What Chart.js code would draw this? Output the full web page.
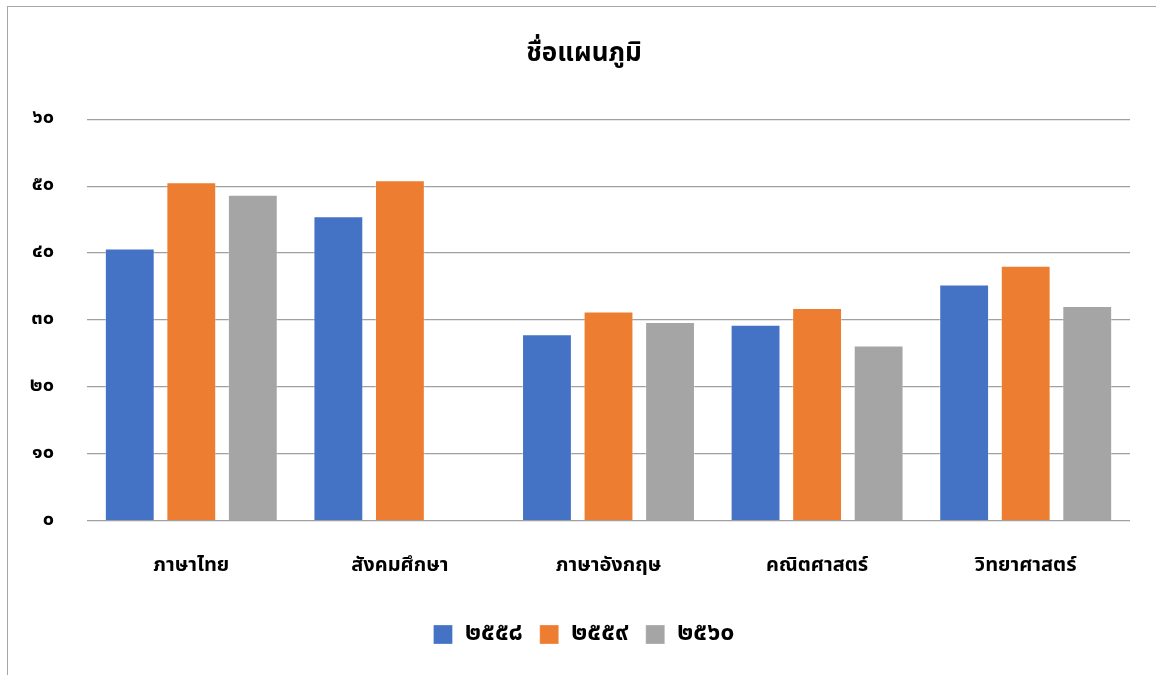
<!DOCTYPE html>
<html>
<head>
<meta charset="utf-8">
<script src="https://cdn.jsdelivr.net/npm/chart.js@4"></script>
<style>
  html, body { margin: 0; padding: 0; background: #fff; }
  #wrap { position: relative; width: 1156px; height: 675px; overflow: hidden; }
  #frame { position: absolute; left: 7px; top: 6px; width: 1170px; height: 690px; border: 1px solid #a6a6a6; box-sizing: border-box; }
  #c { position: absolute; left: 6px; top: 0; }
</style>
</head>
<body>
<div id="wrap">
  <div id="frame"></div>
  <canvas id="c" width="1156" height="675"></canvas>
</div>
<script>
const categories = ['ภาษาไทย', 'สังคมศึกษา', 'ภาษาอังกฤษ', 'คณิตศาสตร์', 'วิทยาศาสตร์'];
const seriesNames = ['๒๕๕๘', '๒๕๕๙', '๒๕๖๐'];
const values2558 = [40.7, 45.5, 27.9, 29.3, 35.3];
const values2559 = [50.6, 50.9, 31.3, 31.8, 38.1];
const values2560 = [48.7, null, 29.7, 26.2, 32.1];
const tickLabels = ['๐', '๑๐', '๒๐', '๓๐', '๔๐', '๕๐', '๖๐'];
const chartTitle = 'ชื่อแผนภูมิ';

const colors = ['#4472c4', '#ed7d31', '#a5a5a5'];
const fontFam = "'Noto Sans Thai', 'Noto Sans', 'Tahoma', sans-serif";

new Chart(document.getElementById('c'), {
  type: 'bar',
  data: {
    labels: categories,
    datasets: [values2558, values2559, values2560].map((d, i) => ({
      label: seriesNames[i],
      data: d,
      backgroundColor: colors[i],
      borderColor: 'rgba(255,255,255,0.3)',
      borderWidth: 1,
      categoryPercentage: 0.885,
      barPercentage: 0.81
    }))
  },
  options: {
    responsive: false,
    animation: false,
    devicePixelRatio: 1,
    layout: { padding: { left: 0, right: 0, top: 40, bottom: 18 } },
    plugins: {
      title: {
        display: true,
        text: chartTitle,
        color: '#000',
        font: { family: fontFam, size: 26, weight: 'bold' },
        padding: { top: 0, bottom: 48 }
      },
      legend: {
        position: 'bottom',
        labels: {
          color: '#000',
          font: { family: fontFam, size: 25, weight: 'bold' },
          boxWidth: 19,
          boxHeight: 19,
          padding: 17
        }
      },
      tooltip: { enabled: false }
    },
    scales: {
      x: {
        grid: { display: false },
        border: { display: false },
        ticks: {
          color: '#000',
          font: { family: fontFam, size: 20, weight: 'bold' },
          padding: 26
        }
      },
      y: {
        min: 0,
        max: 60,
        ticks: {
          stepSize: 10,
          color: '#000',
          font: { family: fontFam, size: 20, weight: 'bold' },
          padding: 33,
          callback: (v) => tickLabels[Math.round(v / 10)]
        },
        grid: { color: '#a0a0a0', lineWidth: 1.3, drawTicks: false },
        border: { display: false },
        afterFit: (axis) => { axis.width = 81; }
      },
      yRight: {
        position: 'right',
        display: true,
        min: 0,
        max: 60,
        grid: { display: false, drawTicks: false },
        ticks: { display: false },
        border: { display: false },
        afterFit: (axis) => { axis.width = 32; }
      }
    }
  }
});
</script>
</body>
</html>
